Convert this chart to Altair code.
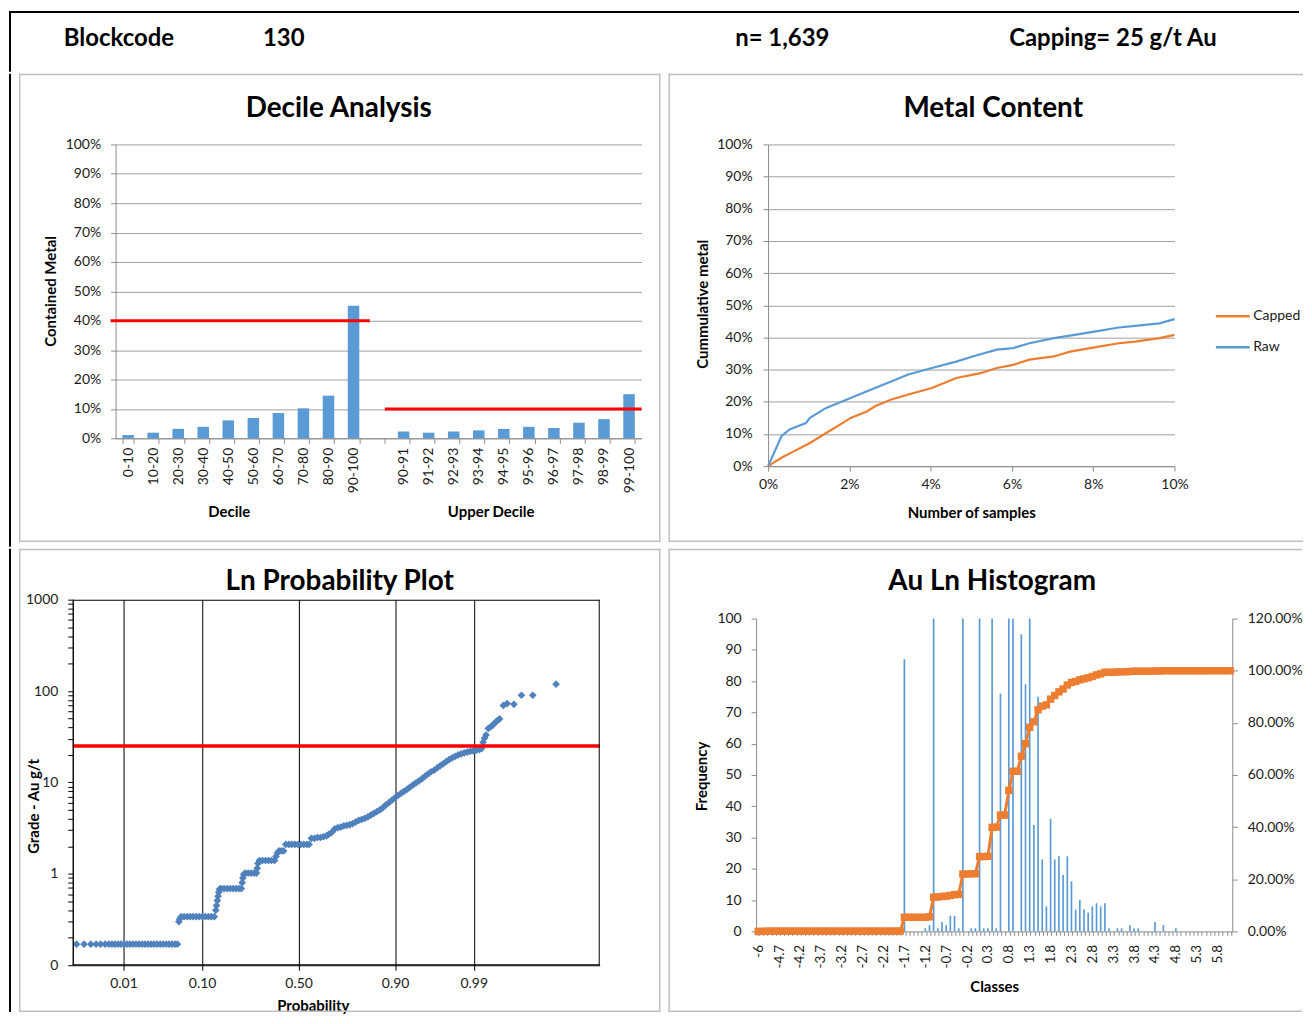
import json
import altair as alt
import pandas as pd

FONT = "Lato"
BLUE = "#5B9BD5"
ORANGE = "#ED7D31"
PT_BLUE = "#4F81BD"
RED = "#FF0000"
GRID = "#A0A0A0"
AXIS_GRAY = "#8C8C8C"
BORDER = "#BFBFBF"
TXT = "#1A1A1A"

# ---------------- header ----------------
header_block = "Blockcode"
header_code = "130"
header_n = "n= 1,639"
header_cap = "Capping= 25 g/t Au"

# ---------------- decile analysis ----------------
decile_labels = ["0-10", "10-20", "20-30", "30-40", "40-50", "50-60", "60-70", "70-80", "80-90", "90-100"]
decile_values = [1.1, 1.9, 3.2, 3.9, 6.1, 6.9, 8.6, 10.2, 14.5, 45.1]
upper_labels = ["90-91", "91-92", "92-93", "93-94", "94-95", "95-96", "96-97", "97-98", "98-99", "99-100"]
upper_values = [2.3, 1.9, 2.3, 2.7, 3.2, 3.9, 3.5, 5.3, 6.5, 15.0]
gap_label = " "
decile_limits = [40, 10]
pct_ticks = [0, 10, 20, 30, 40, 50, 60, 70, 80, 90, 100]

# ---------------- metal content ----------------
raw_x = [0, 0.33, 0.53, 0.93, 1.03, 1.43, 2.03, 2.63, 3.03, 3.43, 4.03, 4.63, 5.03, 5.63, 6.03, 6.43,
         7.03, 7.43, 8.03, 8.63, 9.03, 9.63, 10.0]
raw_y = [0, 9.3, 11.4, 13.4, 15.0, 18.1, 21.2, 24.3, 26.3, 28.4, 30.5, 32.5, 34.1, 36.2, 36.7, 38.2,
         39.8, 40.6, 41.8, 43.1, 43.6, 44.4, 45.7]
cap_x = [0, 0.33, 0.63, 1.03, 1.43, 1.83, 2.03, 2.43, 2.63, 3.03, 3.43, 4.03, 4.63, 5.23, 5.63, 6.03,
         6.43, 7.03, 7.43, 8.03, 8.63, 9.03, 9.63, 10.0]
cap_y = [0, 2.6, 4.6, 7.2, 10.3, 13.4, 15.0, 17.0, 18.6, 20.7, 22.2, 24.3, 27.4, 28.9, 30.5, 31.5,
         33.1, 34.1, 35.6, 36.9, 38.2, 38.7, 39.8, 40.8]
mc_x_ticks = [0, 2, 4, 6, 8, 10]

# ---------------- ln probability plot ----------------
prob_z = [
    -2.95, -2.85, -2.76, -2.69, -2.63, -2.57, -2.52, -2.48, -2.44, -2.40, -2.36, -2.32, -2.28, -2.24, -2.20,
    -2.16, -2.12, -2.08, -2.04, -2.00, -1.96, -1.92, -1.88, -1.84, -1.80, -1.76, -1.72, -1.68, -1.64, -1.61,
    -1.59, -1.58,
    -1.56, -1.52, -1.48, -1.44, -1.40, -1.36, -1.32, -1.28, -1.24, -1.20, -1.16, -1.12,
    -1.10, -1.09, -1.08, -1.07, -1.06, -1.05,
    -1.03, -0.99, -0.95, -0.91, -0.87, -0.83, -0.79, -0.76,
    -0.75, -0.74, -0.73,
    -0.71, -0.67, -0.63, -0.59, -0.56,
    -0.55, -0.54,
    -0.52, -0.48, -0.44, -0.40, -0.36, -0.32,
    -0.30, -0.28,
    -0.26, -0.23, -0.20,
    -0.17, -0.13, -0.09, -0.05, -0.01, 0.03, 0.07, 0.11, 0.14,
    0.17, 0.21, 0.25, 0.29, 0.33, 0.37,
    0.40, 0.44, 0.48, 0.52, 0.56, 0.60, 0.64, 0.68, 0.72, 0.76, 0.80, 0.84, 0.88, 0.92, 0.96, 1.00,
    1.04, 1.08, 1.12, 1.16, 1.20, 1.24, 1.28, 1.32, 1.36, 1.40, 1.44, 1.48, 1.52, 1.56, 1.60, 1.64,
    1.68, 1.72, 1.76, 1.80, 1.84, 1.88, 1.92, 1.96, 2.00, 2.04, 2.08, 2.12, 2.16, 2.20, 2.24, 2.28,
    2.32, 2.36, 2.40, 2.43,
    2.45, 2.47, 2.49, 2.52, 2.55, 2.58, 2.61, 2.64, 2.67,
    2.72, 2.77, 2.86, 2.96, 3.11, 3.42,
]
prob_grade = [
    0.17, 0.17, 0.17, 0.17, 0.17, 0.17, 0.17, 0.17, 0.17, 0.17, 0.17, 0.17, 0.17, 0.17, 0.17,
    0.17, 0.17, 0.17, 0.17, 0.17, 0.17, 0.17, 0.17, 0.17, 0.17, 0.17, 0.17, 0.17, 0.17, 0.17,
    0.30, 0.32,
    0.34, 0.34, 0.34, 0.34, 0.34, 0.34, 0.34, 0.34, 0.34, 0.34, 0.34, 0.34,
    0.40, 0.45, 0.51, 0.57, 0.63, 0.68,
    0.69, 0.69, 0.69, 0.69, 0.69, 0.69, 0.69, 0.69,
    0.80, 0.90, 0.98,
    1.02, 1.02, 1.02, 1.02, 1.02,
    1.15, 1.30,
    1.40, 1.40, 1.40, 1.40, 1.40, 1.40,
    1.55, 1.70,
    1.78, 1.78, 1.78,
    2.10, 2.10, 2.10, 2.10, 2.10, 2.10, 2.10, 2.10, 2.10,
    2.45, 2.45, 2.50, 2.50, 2.55, 2.60,
    2.7, 2.85, 3.1, 3.2, 3.25, 3.35, 3.4, 3.45, 3.55, 3.7, 3.85, 3.95, 4.05, 4.2, 4.4, 4.6,
    4.8, 5.0, 5.3, 5.7, 6.0, 6.4, 6.8, 7.2, 7.6, 8.0, 8.4, 8.9, 9.4, 9.9, 10.4, 11.0,
    11.7, 12.4, 13.1, 13.6, 14.4, 15.2, 16.0, 16.9, 17.8, 18.6, 19.3, 20.0, 20.6, 21.1, 21.5, 21.9,
    22.2, 22.5, 22.9, 23.5,
    27.5, 30.5, 33.0, 39.0, 40.5, 42.5, 45.0, 47.5, 49.5,
    69.6, 73.0, 71.6, 90.0, 90.0, 119.0,
]
assert len(prob_z) == len(prob_grade)
capping = 25
prob_tick_z = [-2.3263, -1.2816, 0, 1.2816, 2.3263]
prob_tick_labels = ["0.01", "0.10", "0.50", "0.90", "0.99"]
log_ticks = [0.1, 0.2, 0.3, 0.4, 0.5, 0.6, 0.7, 0.8, 0.9,
             1, 2, 3, 4, 5, 6, 7, 8, 9,
             10, 20, 30, 40, 50, 60, 70, 80, 90,
             100, 200, 300, 400, 500, 600, 700, 800, 900, 1000]
log_major = [1000, 100, 10, 1, 0.1]
log_major_labels = ["1000", "100", "10", "1", "0"]

# ---------------- histogram ----------------
classes = ["-6", "-5.1", "-5", "-4.9", "-4.8", "-4.7", "-4.6", "-4.5", "-4.4", "-4.3",
           "-4.2", "-4.1", "-4", "-3.9", "-3.8", "-3.7", "-3.6", "-3.5", "-3.4", "-3.3",
           "-3.2", "-3.1", "-3", "-2.9", "-2.8", "-2.7", "-2.6", "-2.5", "-2.4", "-2.3",
           "-2.2", "-2.1", "-2", "-1.9", "-1.8", "-1.7", "-1.6", "-1.5", "-1.4", "-1.3",
           "-1.2", "-1.1", "-1", "-0.9", "-0.8", "-0.7", "-0.6", "-0.5", "-0.4", "-0.3",
           "-0.2", "-0.1", "0", "0.1", "0.2", "0.3", "0.4", "0.5", "0.6", "0.7",
           "0.8", "0.9", "1", "1.1", "1.2", "1.3", "1.4", "1.5", "1.6", "1.7",
           "1.8", "1.9", "2", "2.1", "2.2", "2.3", "2.4", "2.5", "2.6", "2.7",
           "2.8", "2.9", "3", "3.1", "3.2", "3.3", "3.4", "3.5", "3.6", "3.7",
           "3.8", "3.9", "4", "4.1", "4.2", "4.3", "4.4", "4.5", "4.6", "4.7",
           "4.8", "4.9", "5", "5.1", "5.2", "5.3", "5.4", "5.5", "5.6", "5.7",
           "5.8", "5.9", "6", "6.1"]
frequency = [0, 0, 1, 0, 0, 0, 0, 0, 0, 0,
             0, 0, 0, 0, 0, 0, 0, 0, 0, 0,
             0, 0, 0, 0, 0, 0, 0, 0, 0, 0,
             0, 0, 0, 0, 0, 87, 0, 0, 0, 0,
             1, 2, 124, 1, 3, 2, 5, 5, 1, 129,
             0, 1, 1, 107, 1, 1, 182, 1, 76, 0,
             156, 119, 0, 95, 79, 104, 34, 75, 23, 8,
             36, 23, 24, 18, 24, 16, 7, 10, 7, 6,
             8, 9, 8, 9, 1, 0, 1, 1, 0, 2,
             1, 1, 0, 0, 0, 3, 0, 2, 0, 0,
             1, 0, 0, 0, 0, 0, 0, 0, 0, 0,
             0, 0, 0, 0]
cumulative = [0, 0, 0.1, 0.1, 0.1, 0.1, 0.1, 0.1, 0.1, 0.1,
              0.1, 0.1, 0.1, 0.1, 0.1, 0.1, 0.1, 0.1, 0.1, 0.1,
              0.1, 0.1, 0.1, 0.1, 0.1, 0.1, 0.1, 0.1, 0.1, 0.1,
              0.1, 0.1, 0.1, 0.1, 0.1, 5.4, 5.4, 5.4, 5.4, 5.4,
              5.4, 5.6, 13.1, 13.2, 13.4, 13.5, 13.8, 14.1, 14.2, 22.0,
              22.0, 22.1, 22.1, 28.7, 28.7, 28.8, 39.9, 40.0, 44.6, 44.6,
              54.1, 61.4, 61.4, 67.2, 72.0, 78.3, 80.4, 85.0, 86.4, 86.9,
              89.1, 90.5, 91.9, 93.0, 94.5, 95.5, 95.9, 96.5, 96.9, 97.3,
              97.8, 98.4, 98.8, 99.4, 99.4, 99.4, 99.5, 99.6, 99.6, 99.7,
              99.8, 99.8, 99.8, 99.8, 99.8, 99.9, 99.9, 100, 100, 100,
              100, 100, 100, 100, 100, 100, 100, 100, 100, 100,
              100, 100, 100, 100]
labeled_classes = ["-6", "-4.7", "-4.2", "-3.7", "-3.2", "-2.7", "-2.2", "-1.7", "-1.2", "-0.7", "-0.2",
                   "0.3", "0.8", "1.3", "1.8", "2.3", "2.8", "3.3", "3.8", "4.3", "4.8", "5.3", "5.8"]
freq_ticks = [0, 10, 20, 30, 40, 50, 60, 70, 80, 90, 100]
cum_ticks = [0, 20, 40, 60, 80, 100, 120]
assert len(classes) == len(frequency) == len(cumulative) == 114

one = pd.DataFrame({"k": [0]})


def ax(**kw):
    base = dict(labelFont=FONT, labelFontSize=14, labelColor=TXT, titleFont=FONT, titleFontSize=15,
                titleFontWeight="bold", titleColor="black", domainColor=AXIS_GRAY, tickColor=AXIS_GRAY,
                tickSize=5, labelPadding=10, grid=False, titleAlign="center", titleBaseline="middle",
                labelOverlap=False)
    base.update(kw)
    return alt.Axis(**base)


def box(x1, x2, y1, y2, color="black"):
    # filled rectangle: exact layout bounds (no stroke padding)
    return alt.Chart(one).mark_rect(color=color, opacity=1).encode(
        x=alt.value(x1), x2=alt.value(x2), y=alt.value(y1), y2=alt.value(y2))


def border(x1, x2, y1, y2, color=BORDER, t=1.5, right=True):
    parts = [box(x1, x2, y1, y1 + t, color), box(x1, x2, y2 - t, y2, color),
             box(x1, x1 + t, y1, y2, color)]
    if right:
        parts.append(box(x2 - t, x2, y1, y2, color))
    return parts


def deco_text(text, x, y, size=28, weight="bold", align="center"):
    return alt.Chart(one).mark_text(text=text, font=FONT, fontSize=size, fontWeight=weight,
                                    align=align, baseline="middle", color="black").encode(
        x=alt.value(x), y=alt.value(y))


# Column origin of every left panel / header is at page x = 114.
FRAME_X = -106   # black sheet frame at page x = 8


def frame_v(y1, y2):
    return box(FRAME_X - 1, FRAME_X + 1, y1, y2)


# ---------------- header chart ----------------
HW, HH = 1188, 61
header = alt.layer(
    box(FRAME_X - 1, HW, 0, 2),
    frame_v(0, HH),
    deco_text(header_block, -52, 28, size=24, align="left"),
    deco_text(header_code, 148, 28, size=24, align="left"),
    deco_text(header_n, 622, 28, size=24, align="left"),
    deco_text(header_cap, 897, 28, size=24, align="left"),
).properties(width=HW, height=HH)

# ---------------- top-left: decile analysis ----------------
W1, H1 = 528, 295
dec_df = pd.DataFrame({"cat": decile_labels + upper_labels, "val": decile_values + upper_values})
dec_domain = decile_labels + [gap_label] + upper_labels
y_tl = alt.Y("val:Q", scale=alt.Scale(domain=[0, 100], nice=False),
             axis=ax(values=pct_ticks, labelExpr="datum.value + '%'", grid=True, gridColor=GRID,
                     title="Contained Metal", titleX=-65, titleY=147))
bars_tl = alt.Chart(dec_df).mark_bar(color=BLUE).encode(
    x=alt.X("cat:N", scale=alt.Scale(domain=dec_domain, paddingInner=0.54, paddingOuter=0.27),
            axis=ax(title=None, labelAngle=-90, tickBand="extent", labelPadding=4)),
    y=y_tl,
)
lim_df = pd.DataFrame({"val": decile_limits, "s": [-0.2, 10.75], "e": [10.15, 21.0]})
rules_tl = alt.Chart(lim_df).mark_rule(color=RED, strokeWidth=3).encode(
    x=alt.X("s:Q", scale=alt.Scale(domain=[0, 21], nice=False, zero=False), axis=None),
    x2="e:Q",
    y=y_tl,
)
TL = alt.layer(
    bars_tl, rules_tl,
    deco_text("Decile", 114, 369, size=15),
    deco_text("Upper Decile", 377, 369, size=15),
    *border(-97, 547, -71, 399),
    frame_v(-71, 404),
    deco_text("Decile Analysis", 224, -36),
).resolve_scale(x="independent").properties(width=W1, height=H1)

# ---------------- top-right: metal content ----------------
W2, H2 = 408, 323
mc_df = pd.DataFrame({
    "series": ["Capped"] * len(cap_x) + ["Raw"] * len(raw_x),
    "x": cap_x + raw_x,
    "y": cap_y + raw_y,
})
lines_tr = alt.Chart(mc_df).mark_line(strokeWidth=2.2).encode(
    x=alt.X("x:Q", scale=alt.Scale(domain=[0, 10], nice=False, zero=False),
            axis=ax(values=mc_x_ticks, labelExpr="datum.value + '%'", labelFlush=False, labelPadding=6,
                    title="Number of samples", titleX=204, titleY=47)),
    y=alt.Y("y:Q", scale=alt.Scale(domain=[0, 100], nice=False),
            axis=ax(values=pct_ticks, labelExpr="datum.value + '%'", grid=True, gridColor=GRID,
                    labelPadding=11, title="Cummulative metal", titleX=-66, titleY=160)),
    color=alt.Color("series:N", scale=alt.Scale(domain=["Capped", "Raw"], range=[ORANGE, BLUE]),
                    legend=alt.Legend(title=None, orient="none", legendX=448, legendY=154,
                                      symbolType="stroke", symbolSize=1150, symbolStrokeWidth=2.5,
                                      labelFont=FONT, labelFontSize=14, labelColor=TXT, labelOffset=2,
                                      rowPadding=5, padding=0)),
)
TR = alt.layer(
    lines_tr,
    *border(-100, 537, -71, 399, right=False),
    deco_text("Metal Content", 226, -36),
).properties(width=W2, height=H2)

# ---------------- bottom-left: ln probability plot ----------------
# view starts at page x = 114; the plot frame starts 43 px further left (page x = 71)
W3, H3 = 486, 367
BL_LEFT = -43
pp_df = pd.DataFrame({"z": prob_z, "g": prob_grade})
prob_expr = "''"
for zv, lab in zip(reversed(prob_tick_z), reversed(prob_tick_labels)):
    prob_expr = f"(abs(datum.value - ({zv})) < 0.001 ? '{lab}' : {prob_expr})"
log_expr = "''"
for v, lab in zip(reversed(log_major), reversed(log_major_labels)):
    log_expr = f"(abs(datum.value - {v}) < 1e-9 ? '{lab}' : {log_expr})"

y_bl = alt.Y("g:Q", scale=alt.Scale(type="log", domain=[0.1, 1000], nice=False),
             axis=ax(values=log_ticks, labelExpr=log_expr, domainColor="black", offset=-BL_LEFT,
                     tickColor="black", labelPadding=10, title="Grade  - Au g/t", titleX=-39, titleY=207))
pts_bl = alt.Chart(pp_df).mark_point(shape="diamond", filled=True, size=60, color=PT_BLUE, opacity=1).encode(
    x=alt.X("z:Q", scale=alt.Scale(domain=[-3, 4], range=[BL_LEFT, W3], nice=False, zero=False),
            axis=ax(values=prob_tick_z, labelExpr=prob_expr, grid=True, gridColor="black", gridWidth=1,
                    domainColor="black", tickColor="black", labelFlush=False, labelPadding=6,
                    title="Probability", titleX=198, titleY=40)),
    y=y_bl,
)
rule_bl = alt.Chart(pd.DataFrame({"g": [capping]})).mark_rule(color=RED, strokeWidth=3.5).encode(
    y=y_bl, x=alt.value(BL_LEFT), x2=alt.value(W3))
BL = alt.layer(
    pts_bl, rule_bl,
    *border(BL_LEFT, W3, 0, H3, color="black", t=1),
    *border(-97, 547, -51, 414),
    frame_v(-51, 414),
    deco_text("Ln Probability Plot", 225, -18),
).properties(width=W3, height=H3)

# ---------------- bottom-right: histogram ----------------
# view top at page y = 600; plot area starts 19 px lower
W4, H4 = 478, 333
BR_TOP = 19
hist_df = pd.DataFrame({"cls": classes, "freq": frequency, "cum": cumulative,
                        "i": list(range(len(classes)))})
cls_expr = "indexof(" + json.dumps(labeled_classes) + ", datum.value) >= 0 ? datum.value : ''"
x_br = alt.X("cls:N", scale=alt.Scale(domain=classes, paddingInner=0.6, paddingOuter=0.3),
             axis=ax(labelAngle=-90, tickBand="extent", labelExpr=cls_expr, labelPadding=9,
                     labelFontSize=13.5, tickSize=4, title="Classes", titleX=239, titleY=55))
bars_br = alt.Chart(hist_df).mark_bar(color=BLUE).encode(
    x=x_br,
    y=alt.Y("freq:Q", scale=alt.Scale(domain=[0, 100], range=[H4, BR_TOP], nice=False, clamp=True),
            axis=ax(values=freq_ticks, title="Frequency", titleX=-55, titleY=177)),
)
line_br = alt.Chart(hist_df).mark_line(
    color=ORANGE, strokeWidth=3,
    point=alt.OverlayMarkDef(shape="square", filled=True, size=55, color=ORANGE, opacity=1),
).encode(
    x=x_br,
    y=alt.Y("cum:Q", scale=alt.Scale(domain=[0, 120], range=[H4, BR_TOP], nice=False),
            axis=ax(orient="right", values=cum_ticks, labelExpr="format(datum.value, '.2f') + '%'",
                    title=None)),
    order=alt.Order("i:Q"),
)
BR = alt.layer(
    bars_br, line_br,
    *border(-88, 548, -51, 414, right=False),
    deco_text("Au Ln Histogram", 237, -18),
).resolve_scale(y="independent").properties(width=W4, height=H4)

row1 = alt.hconcat(TL, TR, spacing=6).resolve_scale(color="independent")
row2 = alt.hconcat(BL, BR, spacing=6)
chart = alt.vconcat(header, row1, row2, spacing=0).resolve_scale(color="independent").properties(
    padding=0, background="white")
chart = chart.configure(font=FONT).configure_view(stroke="transparent")

chart.save("out.html", embed_options={"renderer": "svg", "actions": False})
